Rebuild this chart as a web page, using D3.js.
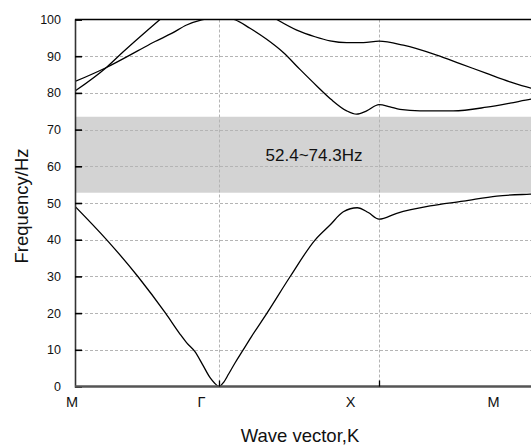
<!DOCTYPE html>
<html><head><meta charset="utf-8">
<script src="https://cdn.jsdelivr.net/npm/d3@7"></script>
<style>
html,body{margin:0;padding:0;background:#fff;}
svg{display:block;font-family:Arial,"Liberation Sans",sans-serif;}
</style></head>
<body><svg id="chart" width="531" height="445"></svg>
<script>
// ---- data ----
const kLabels = ["M", "Γ", "X", "M"];
const kTicks = [0, 1, 2, 3];
const yTicks = [0, 10, 20, 30, 40, 50, 60, 70, 80, 90, 100];

const band1K = [0, 0.222, 0.438, 0.630, 0.729, 0.776, 0.833, 0.891, 0.938, 0.970, 1.000, 1.030, 1.060, 1.100, 1.150, 1.200, 1.300, 1.444, 1.600, 1.694, 1.777, 1.864, 1.933, 2.000, 2.111, 2.319, 2.527, 2.736, 2.944, 3.000];
const band1F = [49.1, 39.9, 29.9, 19.9, 14.3, 11.9, 9.5, 5.6, 2.4, 0.9, 0, 1.2, 3.4, 6.4, 9.9, 13.4, 20.0, 29.9, 39.9, 44.0, 47.6, 48.7, 47.4, 45.6, 47.2, 49.2, 50.5, 51.9, 52.4, 52.5];

const band2K = [0, 0.222, 0.438, 0.556, 0.671, 0.775, 0.880, 1.000, 1.094, 1.194, 1.298, 1.402, 1.506, 1.611, 1.704, 1.798, 1.860, 1.923, 2.000, 2.069, 2.131, 2.256, 2.463, 2.673, 2.819, 2.950, 3.000];
const band2F = [83.1, 87.0, 91.5, 94.0, 96.2, 98.5, 99.9, 100.6, 100.0, 97.6, 94.6, 91.0, 86.4, 81.9, 78.1, 75.1, 74.2, 75.1, 76.8, 76.2, 75.5, 75.1, 75.1, 76.1, 77.2, 78.3, 78.6];

const band3K = [0, 0.220, 0.335, 0.590, 1.000, 1.361, 1.486, 1.600, 1.694, 1.798, 1.902, 2.000, 2.152, 2.361, 2.506, 2.673, 2.819, 2.950, 3.000];
const band3F = [80.5, 87.0, 91.2, 100.0, null, 100.0, 97.1, 95.3, 94.2, 93.7, 93.7, 94.1, 93.0, 90.3, 88.0, 85.3, 83.0, 81.3, 80.8];

const gapLow = 52.8, gapHigh = 73.5;
const gapLabel = "52.4~74.3Hz";
const xTitle = "Wave vector,K";
const yTitle = "Frequency/Hz";

// ---- layout ----
const svg = d3.select("#chart");
const L = 75, T = 19.5, B = 386.5, R = 539;
const x = d3.scaleLinear().domain(kTicks).range([75, 219, 379, 539]);
const y = d3.scaleLinear().domain([0, 100]).range([B, T]);

svg.append("rect").attr("width", 531).attr("height", 445).attr("fill", "#fff");

svg.append("defs").append("clipPath").attr("id", "clip")
  .append("rect").attr("x", L).attr("y", T).attr("width", R - L).attr("height", B - T);

// gap band
svg.append("rect").attr("x", L).attr("y", y(gapHigh)).attr("width", R - L)
  .attr("height", y(gapLow) - y(gapHigh)).attr("fill", "#d3d3d3");

// grid
const grid = svg.append("g").attr("stroke", "#b4b4b4").attr("stroke-width", 1).attr("stroke-dasharray", "3,2");
grid.selectAll("line.h").data(yTicks.filter(d => d > 0 && d < 100)).join("line")
  .attr("x1", L).attr("x2", R).attr("y1", d => Math.round(y(d)) + 0.5).attr("y2", d => Math.round(y(d)) + 0.5);
grid.selectAll("line.v").data([1, 2]).join("line")
  .attr("x1", d => Math.round(x(d)) + 0.5).attr("x2", d => Math.round(x(d)) + 0.5).attr("y1", T).attr("y2", B);

// gap text
svg.append("text").attr("x", 314).attr("y", y((gapLow + gapHigh) / 2) + 6)
  .attr("text-anchor", "middle").attr("font-size", 17).attr("fill", "#111").text(gapLabel);

// curves
const line = d3.line().defined(d => d[1] !== null).x(d => x(d[0])).y(d => y(d[1])).curve(d3.curveMonotoneX);
const curves = svg.append("g").attr("clip-path", "url(#clip)");
[[band1K, band1F], [band2K, band2F], [band3K, band3F]].forEach(([ks, fs]) => {
  curves.append("path").datum(ks.map((k, i) => [k, fs[i]]))
    .attr("d", line).attr("fill", "none").attr("stroke", "#000").attr("stroke-width", 1.3);
});

// top border
svg.append("line").attr("x1", L).attr("x2", R).attr("y1", T).attr("y2", T).attr("stroke", "#000").attr("stroke-width", 1.5);

// left axis
const yAxis = d3.axisLeft(y).tickValues(yTicks).tickSize(-7).tickPadding(14).tickFormat(d3.format("d"));
const gy = svg.append("g").attr("transform", `translate(${L},0)`).call(yAxis);
gy.select(".domain").attr("stroke", "#333").attr("stroke-width", 1.6);
gy.selectAll(".tick line").attr("stroke", "#000").attr("stroke-width", 1.6);
gy.selectAll(".tick text").attr("font-size", 12.5).attr("fill", "#111").attr("font-family", "Arial, 'Liberation Sans', sans-serif");

// bottom axis
const xAxis = d3.axisBottom(x).tickValues([1, 2]).tickSize(-6).tickFormat("");
const gx = svg.append("g").attr("transform", `translate(0,${B})`).call(xAxis);
gx.select(".domain").attr("stroke", "#555").attr("stroke-width", 2.4).attr("d", `M${L},0H${R}`);
gx.selectAll(".tick line").attr("stroke", "#000").attr("stroke-width", 1.3);

// k labels
const kLabelX = [72, 201.5, 350.5, 493.5];
svg.selectAll("text.klab").data(kLabels).join("text").attr("class", "klab")
  .attr("x", (d, i) => kLabelX[i]).attr("y", 407).attr("text-anchor", "middle")
  .attr("font-size", 14.5).attr("fill", "#111").text(d => d);

// titles
svg.append("text").attr("x", 300).attr("y", 442).attr("text-anchor", "middle")
  .attr("font-size", 18.5).attr("fill", "#111").text(xTitle);
svg.append("text").attr("transform", "translate(28,206) rotate(-90)").attr("text-anchor", "middle")
  .attr("font-size", 18.5).attr("fill", "#111").text(yTitle);
</script></body></html>
